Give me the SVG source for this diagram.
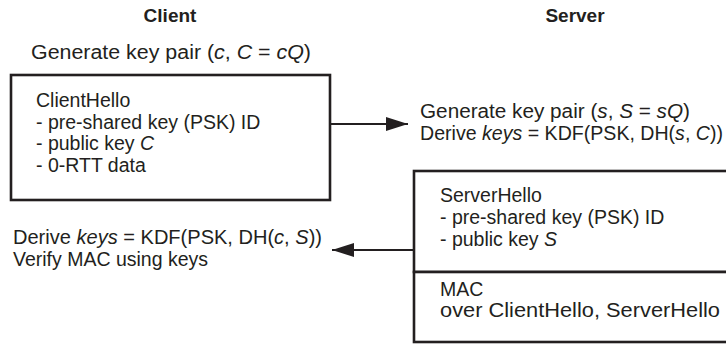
<svg xmlns="http://www.w3.org/2000/svg" width="726" height="348" viewBox="0 0 726 348">
<defs>
<style>
text{font-family:"Liberation Sans",Arial,sans-serif;font-size:19.5px;fill:#231f20}
.t{font-weight:bold;font-size:19px;text-anchor:middle}
.i{font-style:italic}
.box{fill:#fff;stroke:#231f20;stroke-width:2.6}
.con{stroke:#231f20;stroke-width:2.2;fill:none}
</style>
<marker id="ah" viewBox="0 0 22 14" refX="22" refY="7" markerWidth="22" markerHeight="14" markerUnits="userSpaceOnUse" orient="auto">
<path d="M0,0 L22,7 L0,14 Z" fill="#231f20"/>
</marker>
</defs>
<rect width="726" height="348" fill="#fff"/>
<g id="client-title"><text class="t" x="170" y="22">Client</text></g>
<g id="server-title"><text class="t" x="575" y="22">Server</text></g>
<g id="client-gen"><text x="31" y="59" textLength="280" lengthAdjust="spacingAndGlyphs">Generate key pair (<tspan class="i">c</tspan>, <tspan class="i">C</tspan> = <tspan class="i">cQ</tspan>)</text></g>
<g id="client-hello">
<rect class="box" x="11" y="75" width="319" height="125"/>
<text x="36" y="107">ClientHello</text>
<text x="36" y="128.5">- pre-shared key (PSK) ID</text>
<text x="36" y="150">- public key <tspan class="i">C</tspan></text>
<text x="36" y="171.5">- 0-RTT data</text>
</g>
<g id="server-gen">
<text x="420" y="118" textLength="270" lengthAdjust="spacingAndGlyphs">Generate key pair (<tspan class="i">s</tspan>, <tspan class="i">S</tspan> = <tspan class="i">sQ</tspan>)</text>
<text x="420" y="140" textLength="303" lengthAdjust="spacingAndGlyphs">Derive <tspan class="i">keys</tspan> = KDF(PSK, DH(<tspan class="i">s</tspan>, <tspan class="i">C</tspan>))</text>
</g>
<g id="server-hello">
<rect class="box" x="414" y="171" width="320" height="101"/>
<text x="440" y="202">ServerHello</text>
<text x="440" y="224">- pre-shared key (PSK) ID</text>
<text x="440" y="246">- public key <tspan class="i">S</tspan></text>
</g>
<g id="server-mac">
<rect class="box" x="414" y="272" width="320" height="70"/>
<text x="440" y="296">MAC</text>
<text x="440" y="317" textLength="280" lengthAdjust="spacingAndGlyphs">over ClientHello, ServerHello</text>
</g>
<g id="client-derive">
<text x="13" y="244" textLength="309" lengthAdjust="spacingAndGlyphs">Derive <tspan class="i">keys</tspan> = KDF(PSK, DH(<tspan class="i">c</tspan>, <tspan class="i">S</tspan>))</text>
<text x="13" y="266">Verify MAC using keys</text>
</g>
<g id="connectors">
<line class="con" x1="331" y1="124" x2="408" y2="124" marker-end="url(#ah)"/>
<line class="con" x1="413" y1="250" x2="332" y2="250" marker-end="url(#ah)"/>
</g>
</svg>
